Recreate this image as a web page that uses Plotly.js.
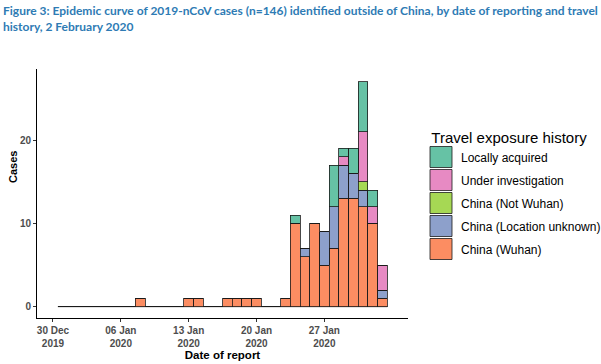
<!DOCTYPE html>
<html>
<head>
<meta charset="utf-8">
<script src="https://cdn.plot.ly/plotly-3.0.1.min.js"></script>
<style>html,body{margin:0;padding:0;background:#fff;}#chart{width:601px;height:364px;}</style>
</head>
<body>
<div id="chart"></div>
<script>
var dates = ['2019-12-31',
  '2020-01-01','2020-01-02','2020-01-03','2020-01-04','2020-01-05','2020-01-06','2020-01-07',
  '2020-01-08','2020-01-09','2020-01-10','2020-01-11','2020-01-12','2020-01-13','2020-01-14',
  '2020-01-15','2020-01-16','2020-01-17','2020-01-18','2020-01-19','2020-01-20','2020-01-21',
  '2020-01-22','2020-01-23','2020-01-24','2020-01-25','2020-01-26','2020-01-27','2020-01-28',
  '2020-01-29','2020-01-30','2020-01-31','2020-02-01','2020-02-02'];
var wuhan       = [0, 0,0,0,0,0,0,0, 1,0,0,0,0,1,1, 0,0,1,1,1,1,0, 0,1,10,6,10,5,7, 13,13,12,10,1];
var locUnknown  = [0, 0,0,0,0,0,0,0, 0,0,0,0,0,0,0, 0,0,0,0,0,0,0, 0,0,0,1,0,4,5, 4,3,2,0,1];
var notWuhan    = [0, 0,0,0,0,0,0,0, 0,0,0,0,0,0,0, 0,0,0,0,0,0,0, 0,0,0,0,0,0,0, 0,0,1,0,0];
var underInv    = [0, 0,0,0,0,0,0,0, 0,0,0,0,0,0,0, 0,0,0,0,0,0,0, 0,0,0,0,0,0,0, 1,0,6,2,3];
var locallyAcq  = [0, 0,0,0,0,0,0,0, 0,0,0,0,0,0,0, 0,0,0,0,0,0,0, 0,0,1,0,0,0,5, 1,3,6,2,0];

var seriesNames = ['China (Wuhan)','China (Location unknown)','China (Not Wuhan)','Under investigation','Locally acquired'];
var seriesColors = ['#FC8D62','#8DA0CB','#A6D854','#E78AC3','#66C2A5'];
var seriesValues = [wuhan, locUnknown, notWuhan, underInv, locallyAcq];

var tickDates = ['2019-12-30','2020-01-06','2020-01-13','2020-01-20','2020-01-27'];
var tickLabels = ['30 Dec<br>2019','06 Jan<br>2020','13 Jan<br>2020','20 Jan<br>2020','27 Jan<br>2020'];
var yTicks = [0, 10, 20];

var titleText = 'Figure 3: Epidemic curve of 2019-nCoV cases (n=146) identified outside of China, by date of reporting and travel<br>history, 2 February 2020';

var DAY = 86400000;
var traces = seriesNames.map(function(n, i){
  return {
    type: 'bar', name: n, x: dates, y: seriesValues[i],
    width: DAY, legendgroup: 'g' + i, legendrank: seriesNames.length - i,
    marker: {color: seriesColors[i], line: {color: '#1a1a1a', width: 0.8}},
    hoverinfo: 'x+y+name'
  };
});

function shiftDate(s, ms){
  return new Date(new Date(s).getTime() + ms).toISOString().replace('T',' ').slice(0,19);
}

var L = 37, R = 193, T = 69, B = 46, W = 601, H = 364;
var pw = W - L - R, ph = H - T - B;
function px2x(px){ return (px - L) / pw; }
function px2y(py){ return (H - B - py) / ph; }

var layout = {
  width: W, height: H,
  margin: {l: L, r: R, t: T, b: B},
  paper_bgcolor: '#fff', plot_bgcolor: '#fff',
  barmode: 'stack', bargap: 0,
  font: {family: 'Liberation Sans, Arial, sans-serif', color: '#000'},
  xaxis: {
    type: 'date',
    range: ['2019-12-28 08:24', '2020-02-04 15:07'],
    tickmode: 'array', tickvals: tickDates, ticktext: tickLabels,
    ticks: 'outside', ticklen: 3, tickcolor: '#333', tickwidth: 1,
    showline: true, linecolor: '#000', linewidth: 1,
    showgrid: false, zeroline: false,
    tickfont: {size: 10, color: '#4d4d4d', weight: 'bold'},
    title: {text: 'Date of report', font: {size: 11.5, color: '#000', weight: 'bold'}, standoff: 0}
  },
  yaxis: {
    range: [-1.36, 28.53],
    tickmode: 'array', tickvals: yTicks,
    ticks: 'outside', ticklen: 3, tickcolor: '#333', tickwidth: 1,
    showline: true, linecolor: '#000', linewidth: 1,
    showgrid: false, zeroline: false,
    tickfont: {size: 10, color: '#4d4d4d', weight: 'bold'}
  },
  annotations: [{
    text: 'Cases', textangle: -90, showarrow: false,
    xref: 'paper', yref: 'paper', x: px2x(13), y: px2y(167), xanchor: 'center', yanchor: 'middle',
    font: {size: 11, color: '#000', weight: 'bold'}
  }, {
    text: titleText, showarrow: false, align: 'left',
    xref: 'paper', yref: 'paper', x: px2x(1), y: px2y(1), xanchor: 'left', yanchor: 'top',
    font: {family: 'Lato, sans-serif', size: 12, color: '#2e7bb4', weight: 'bold'}
  }],
  shapes: [{
    type: 'line', xref: 'x', yref: 'y',
    x0: shiftDate(dates[0], -DAY/2), x1: shiftDate(dates[dates.length-1], DAY/2),
    y0: 0, y1: 0, line: {color: '#1a1a1a', width: 0.8}, layer: 'below'
  }],
  showlegend: true,
  legend: {
    x: 421/601, xanchor: 'left', xref: 'container',
    y: 1 - 123/364, yanchor: 'top', yref: 'container',
    traceorder: 'grouped', tracegroupgap: 4,
    title: {text: '\u00a0\u00a0Travel exposure history', font: {size: 15, color: '#000'}},
    font: {size: 12, color: '#000'},
    bgcolor: 'rgba(0,0,0,0)'
  }
};

Plotly.newPlot('chart', traces, layout, {displayModeBar: false, staticPlot: true}).then(function(){
  document.querySelectorAll('.legend .legendpoints path').forEach(function(p){
    p.setAttribute('d', 'M11,10.5H-11V-10.5H11Z');
  });
});
</script>
</body>
</html>
